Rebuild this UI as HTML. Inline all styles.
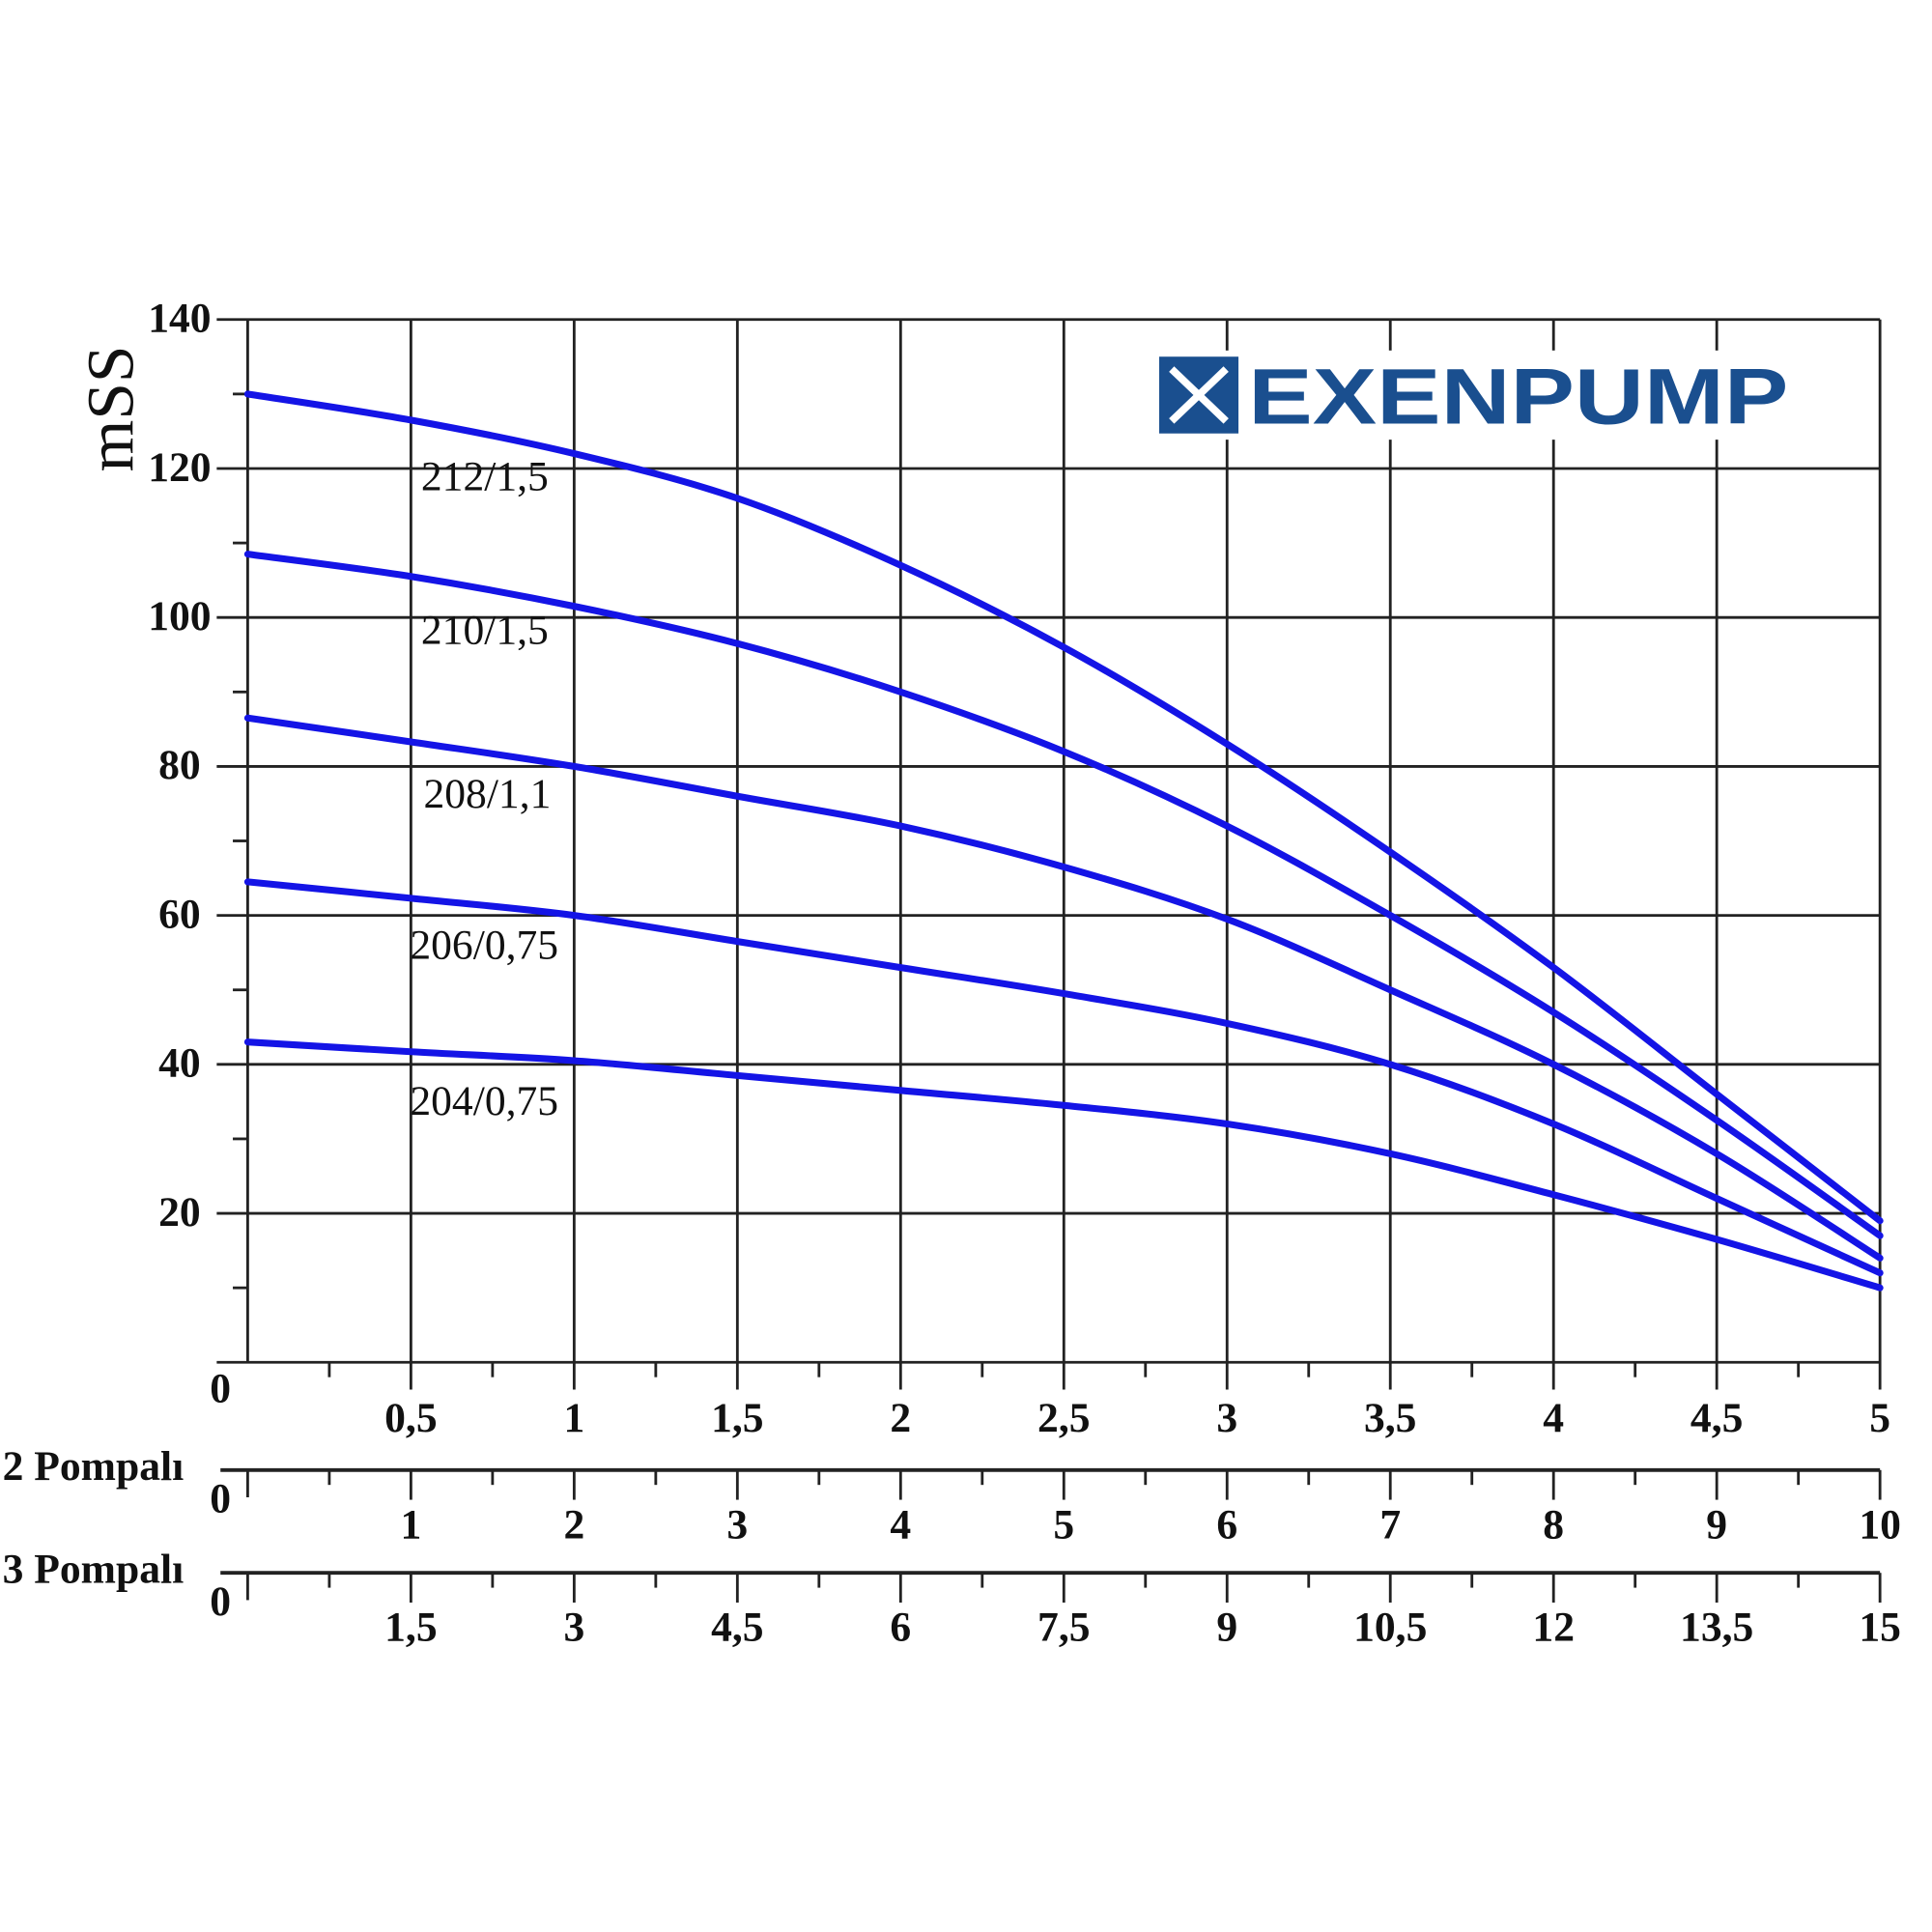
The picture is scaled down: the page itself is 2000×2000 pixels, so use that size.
<!DOCTYPE html>
<html><head><meta charset="utf-8"><style>
html,body{margin:0;padding:0;background:#fff;}
svg{display:block;}
text{font-family:"Liberation Serif",serif;fill:#111;}
text.logo{font-family:"Liberation Sans",sans-serif;fill:#1a4f8f;}
</style></head><body>
<svg id="s" width="2000" height="2000" viewBox="0 0 1560 1560" xmlns="http://www.w3.org/2000/svg">
<rect width="1560" height="1560" fill="#fff"/>
<g id="grid" stroke="#222" stroke-width="2.2" fill="none"></g>
<g id="curves" stroke="#1414e6" stroke-width="5.5" fill="none" stroke-linecap="round"></g>
<g id="labels" font-size="34" font-weight="bold" text-anchor="middle"></g>
<text x="95" y="330" font-size="54" transform="rotate(-90 95 330)" text-anchor="middle" dominant-baseline="middle">mSS</text>
<g font-size="34" text-anchor="start">
<text x="340" y="396">212/1,5</text>
<text x="340" y="520">210/1,5</text>
<text x="342" y="652">208/1,1</text>
<text x="331" y="774">206/0,75</text>
<text x="331" y="900">204/0,75</text>
</g>
<text x="2" y="1195" font-size="34" font-weight="bold">2 Pompalı</text>
<text x="2" y="1278" font-size="34" font-weight="bold">3 Pompalı</text>
<rect x="925" y="283" width="530" height="72" fill="#fff"/>
<rect x="936" y="288" width="64" height="62" fill="#1a4f8f"/>
<g stroke="#fff" stroke-width="6" fill="none"><path d="M946 298 L968 319 L990 298 M946 340 L968 319 L990 340"/></g>
<text class="logo" x="1008" y="342" font-size="64" font-weight="bold" textLength="436" lengthAdjust="spacingAndGlyphs">EXENPUMP</text>
</svg>
<script>
const NS="http://www.w3.org/2000/svg";
const L=200,R=1518,T=258,B=1100;
const xs=q=>L+(R-L)*q/5, ys=h=>B-(B-T)*h/140;
const g=document.getElementById('grid'), c=document.getElementById('curves'), lb=document.getElementById('labels');
function line(x1,y1,x2,y2,w){const e=document.createElementNS(NS,'line');e.setAttribute('x1',x1);e.setAttribute('y1',y1);e.setAttribute('x2',x2);e.setAttribute('y2',y2);if(w)e.setAttribute('stroke-width',w);g.appendChild(e);}
function txt(x,y,s,anchor){const e=document.createElementNS(NS,'text');e.setAttribute('x',x);e.setAttribute('y',y);e.textContent=s;if(anchor)e.setAttribute('text-anchor',anchor);lb.appendChild(e);}
for(let i=0;i<=7;i++){const y=ys(i*20);line(175,y,R,y);if(i>0)txt(145,y+10,String(i*20));}
for(let i=0;i<7;i++){line(188,ys(i*20+10),L,ys(i*20+10));}
txt(178,1132,'0');
for(let i=0;i<=10;i++){const x=xs(i/2);line(x,T,x,B+(i>0?22:0));}
const axes=[[1100,['0,5','1','1,5','2','2,5','3','3,5','4','4,5','5'],1156],[1187,['1','2','3','4','5','6','7','8','9','10'],1242],[1270,['1,5','3','4,5','6','7,5','9','10,5','12','13,5','15'],1325]];
axes.forEach(([y,lab,ly],k)=>{
 if(k>0){line(178,y,R,y,3);txt(178,y+34,'0');line(L,y,L,y+22);for(let i=1;i<=10;i++)line(xs(i/2),y,xs(i/2),y+24);}
 for(let i=0;i<10;i++)line(xs(i/2+0.25),y,xs(i/2+0.25),y+12);
 lab.forEach((s,i)=>txt(xs((i+1)/2),ly,s));
});
const data=[
[130,126.5,122,116,107,96,83,68.5,53,36,19],
[108.5,105.5,101.5,96.5,90,82,72,60,47,32.5,17],
[86.5,83.3,80,76,72,66.5,59.5,50,40,28,14],
[64.5,62.3,60,56.5,53,49.5,45.5,40,32,22,12],
[43,41.7,40.5,38.5,36.5,34.5,32,28,22.5,16.5,10]];
data.forEach(d=>{
 const p=d.map((h,i)=>[xs(i/2),ys(h)]);
 let s='M'+p[0].join(' ');
 for(let i=0;i<p.length-1;i++){
  const p0=p[Math.max(0,i-1)],p1=p[i],p2=p[i+1],p3=p[Math.min(p.length-1,i+2)];
  const c1=[p1[0]+(p2[0]-p0[0])/6,p1[1]+(p2[1]-p0[1])/6],c2=[p2[0]-(p3[0]-p1[0])/6,p2[1]-(p3[1]-p1[1])/6];
  s+=` C${c1.join(' ')} ${c2.join(' ')} ${p2.join(' ')}`;
 }
 const e=document.createElementNS(NS,'path');e.setAttribute('d',s);c.appendChild(e);
});
</script>
</body></html>
